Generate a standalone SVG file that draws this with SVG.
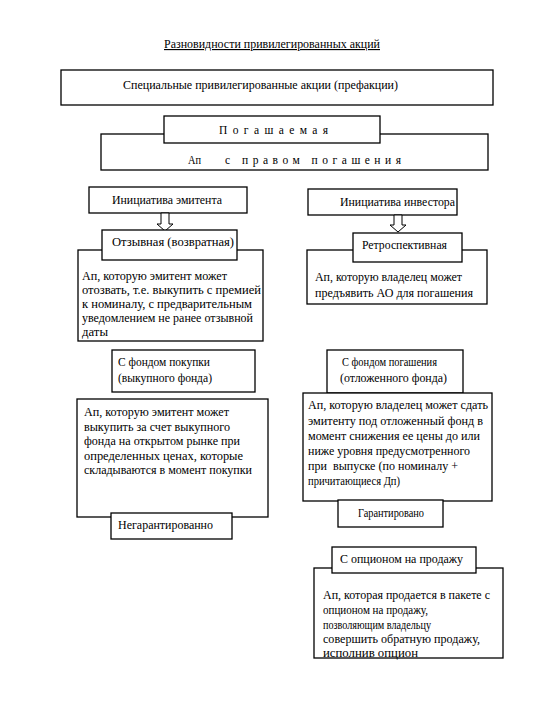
<svg xmlns="http://www.w3.org/2000/svg" width="540" height="720" viewBox="0 0 540 720">
<style>
.b{fill:#fff;stroke:#000;stroke-width:1.3}
text{font-size:11.5px;fill:#000}
.arr{fill:#fff;stroke:#000;stroke-width:1}
</style>
<rect x="0" y="0" width="540" height="720" fill="#fff" stroke="none"/>
<g font-family="Liberation Serif, Times New Roman, serif">
<g id="title">
<text x="164" y="48" textLength="216" lengthAdjust="spacingAndGlyphs" text-decoration="underline">Разновидности привилегированных акций</text>
</g>
<g id="pref">
<rect class="b" x="61" y="70" width="432" height="35"/>
<text x="123" y="89" textLength="275" lengthAdjust="spacingAndGlyphs">Специальные привилегированные акции (префакции)</text>
</g>
<g id="ap-pogash">
<rect class="b" x="101" y="134" width="387" height="36"/>
<text x="188" y="164" textLength="13" lengthAdjust="spacingAndGlyphs">Ап</text>
<text x="225" y="164" textLength="176" lengthAdjust="spacing">с правом погашения</text>
</g>
<g id="pogashaemaya">
<rect class="b" x="164" y="116" width="216" height="27"/>
<text x="219" y="134" textLength="109" lengthAdjust="spacing">Погашаемая</text>
</g>
<g id="init-emit">
<rect class="b" x="89" y="187" width="158" height="26"/>
<text x="112" y="204" textLength="110" lengthAdjust="spacingAndGlyphs">Инициатива эмитента</text>
</g>
<g id="init-inv">
<rect class="b" x="308" y="189" width="149" height="26"/>
<text x="340" y="206" textLength="115" lengthAdjust="spacingAndGlyphs">Инициатива инвестора</text>
</g>
<g id="connectors">
<path class="arr" d="M161,213 V224 H157 L165,231 L173,224 H169 V213 Z"/>
<path class="arr" d="M394,215 V225 H390 L398,232 L406,225 H402 V215 Z"/>
</g>
<g id="otzyv-desc">
<rect class="b" x="78" y="250" width="185" height="91"/>
<text x="82" y="280" textLength="145" lengthAdjust="spacingAndGlyphs">Ап, которую эмитент может</text>
<text x="82" y="294" textLength="179" lengthAdjust="spacingAndGlyphs">отозвать, т.е. выкупить с премией</text>
<text x="82" y="308" textLength="170" lengthAdjust="spacingAndGlyphs">к номиналу, с предварительным</text>
<text x="82" y="322" textLength="171" lengthAdjust="spacingAndGlyphs">уведомлением не ранее отзывной</text>
<text x="82" y="336" textLength="26" lengthAdjust="spacingAndGlyphs">даты</text>
</g>
<g id="otzyv">
<rect class="b" x="102" y="230" width="135" height="30"/>
<text x="112" y="246" textLength="122" lengthAdjust="spacingAndGlyphs">Отзывная (возвратная)</text>
</g>
<g id="retro-desc">
<rect class="b" x="307" y="250" width="180" height="54"/>
<text x="315" y="281" textLength="147" lengthAdjust="spacingAndGlyphs">Ап, которую владелец может</text>
<text x="315" y="297" textLength="158" lengthAdjust="spacingAndGlyphs">предъявить АО для погашения</text>
</g>
<g id="retro">
<rect class="b" x="353" y="233" width="109" height="29"/>
<text x="362" y="249" textLength="85" lengthAdjust="spacingAndGlyphs">Ретроспективная</text>
</g>
<g id="fond-pokupki">
<rect class="b" x="112" y="350" width="143" height="42"/>
<text x="118" y="366" textLength="92" lengthAdjust="spacingAndGlyphs">С фондом покупки</text>
<text x="118" y="382" textLength="94" lengthAdjust="spacingAndGlyphs">(выкупного фонда)</text>
</g>
<g id="fond-pokupki-desc">
<rect class="b" x="77" y="399" width="191" height="118"/>
<text x="84" y="416" textLength="145" lengthAdjust="spacingAndGlyphs">Ап, которую эмитент может</text>
<text x="84" y="431" textLength="146" lengthAdjust="spacingAndGlyphs">выкупить за счет выкупного</text>
<text x="84" y="445" textLength="156" lengthAdjust="spacingAndGlyphs">фонда на открытом рынке при</text>
<text x="84" y="460" textLength="159" lengthAdjust="spacingAndGlyphs">определенных ценах, которые</text>
<text x="84" y="474" textLength="168" lengthAdjust="spacingAndGlyphs">складываются в момент покупки</text>
</g>
<g id="negarant">
<rect class="b" x="111" y="513" width="121" height="26"/>
<text x="118" y="529" textLength="95" lengthAdjust="spacingAndGlyphs">Негарантированно</text>
</g>
<g id="fond-pogash">
<rect class="b" x="327" y="350" width="136" height="43"/>
<text x="342" y="366" textLength="95" lengthAdjust="spacingAndGlyphs">С фондом погашения</text>
<text x="340" y="382" textLength="107" lengthAdjust="spacingAndGlyphs">(отложенного фонда)</text>
</g>
<g id="fond-pogash-desc">
<rect class="b" x="303" y="393" width="189" height="108"/>
<text x="308" y="409" textLength="180" lengthAdjust="spacingAndGlyphs">Ап, которую владелец может сдать</text>
<text x="308" y="425" textLength="175" lengthAdjust="spacingAndGlyphs">эмитенту под отложенный фонд в</text>
<text x="308" y="440" textLength="172" lengthAdjust="spacingAndGlyphs">момент снижения ее цены до или</text>
<text x="308" y="455" textLength="162" lengthAdjust="spacingAndGlyphs">ниже уровня предусмотренного</text>
<text x="308" y="470" textLength="150" lengthAdjust="spacingAndGlyphs" xml:space="preserve">при  выпуске (по номиналу +</text>
<text x="308" y="485" textLength="92" lengthAdjust="spacingAndGlyphs">причитающиеся Дп)</text>
</g>
<g id="garant">
<rect class="b" x="338" y="500" width="105" height="27"/>
<text x="358" y="517" textLength="66" lengthAdjust="spacingAndGlyphs">Гарантировано</text>
</g>
<g id="option-desc">
<rect class="b" x="314" y="568" width="189" height="90"/>
<text x="323" y="599" textLength="167" lengthAdjust="spacingAndGlyphs">Ап, которая продается в пакете с</text>
<text x="323" y="614" textLength="105" lengthAdjust="spacingAndGlyphs">опционом на продажу,</text>
<text x="323" y="629" textLength="108" lengthAdjust="spacingAndGlyphs">позволяющим владельцу</text>
<text x="323" y="643" textLength="157" lengthAdjust="spacingAndGlyphs">совершить обратную продажу,</text>
<text x="323" y="657" textLength="95" lengthAdjust="spacingAndGlyphs">исполнив опцион</text>
</g>
<g id="option">
<rect class="b" x="332" y="547" width="144" height="26"/>
<text x="340" y="563" textLength="123" lengthAdjust="spacingAndGlyphs">С опционом на продажу</text>
</g>
</g>
</svg>
